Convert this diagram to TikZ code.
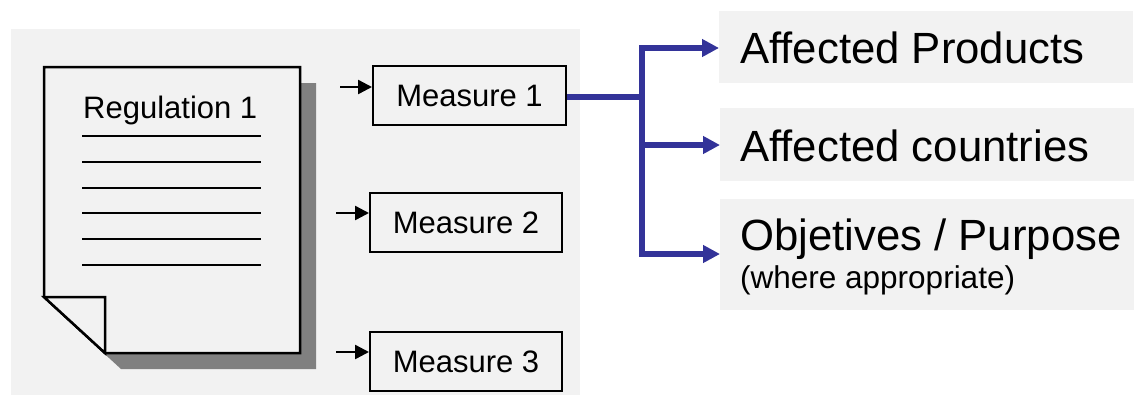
\documentclass[tikz,border=0pt]{standalone}
\usepackage{fontspec}
\setmainfont{Liberation Sans}
\usetikzlibrary{arrows.meta}
\definecolor{panel}{HTML}{F2F2F2}
\definecolor{shadowgray}{HTML}{808080}
\definecolor{conn}{HTML}{333399}
\tikzset{
  measurebox/.style={draw=black, line width=2pt, minimum width=192pt, minimum height=59pt, inner sep=0pt, font=\fontsize{31}{36}\selectfont},
  infobox/.style={fill=panel, minimum width=414pt, inner sep=0pt, anchor=north west},
  bigtxt/.style={font=\fontsize{43.7}{50}\selectfont, inner sep=0pt, anchor=base west},
  smalltxt/.style={font=\fontsize{31.5}{36}\selectfont, inner sep=0pt, anchor=base west},
  regtxt/.style={font=\fontsize{31}{36}\selectfont, inner sep=0pt, anchor=base west},
  smallarrow/.style={line width=2.5pt, -{Triangle[length=14pt,width=14pt]}},
  bluearrow/.style={conn, line width=6pt, -{Triangle[length=17pt,width=17pt]}},
  blueline/.style={conn, line width=6pt},
  docline/.style={line width=2.5pt},
}
\begin{document}
\begin{tikzpicture}[x=1pt,y=-1pt]
\useasboundingbox (0,0) rectangle (1134,405);
% background panel
\fill[panel] (11,29) rectangle (580,395);
% document shadow
\fill[shadowgray] (60,83) -- (316,83) -- (316,369) -- (121,369) -- (60,313) -- cycle;
% document
\draw[docline, fill=panel] (44,67) -- (300,67) -- (300,353) -- (105,353) -- (44,297) -- cycle;
\draw[docline, fill=panel] (44,297) -- (105,297) -- (105,353) -- cycle;
\node[regtxt] (reg) at (83,118) {Regulation 1};
\foreach \yy in {136,162,188,213,239,265}
  \draw[line width=2.3pt] (82,\yy) -- (261,\yy);
% measures
\node[measurebox, minimum width=193pt] (m1) at (469.5,95.5) {Measure 1};
\node[measurebox] (m2) at (466,222.5) {Measure 2};
\node[measurebox] (m3) at (466,361.5) {Measure 3};
\coordinate (a1) at (340,87);
\coordinate (a2) at (336,213);
\coordinate (a3) at (336,352);
\draw[smallarrow] (a1) -- (a1 -| m1.west);
\draw[smallarrow] (a2) -- (a2 -| m2.west);
\draw[smallarrow] (a3) -- (a3 -| m3.west);
% right boxes
\node[infobox, minimum height=72pt] (b1) at (719,11) {};
\node[infobox, minimum height=73pt] (b2) at (720,108) {};
\node[infobox, minimum height=111pt] (b3) at (720,199) {};
\node[bigtxt] (t1) at (740,63) {Affected Products};
\node[bigtxt] (t2) at (740,161) {Affected countries};
\node[bigtxt] (t3) at (740,250) {Objetives / Purpose};
\node[smalltxt] (t4) at (740,288) {(where appropriate)};
% blue connector
\coordinate (j) at (642,97);
\coordinate (jt) at (642,48);
\coordinate (jm) at (642,145);
\coordinate (jb) at (642,254);
\draw[blueline] (m1.east |- j) -- (j);
\draw[blueline, line cap=rect] (jt) -- (jb);
\draw[bluearrow] (jt) -- (jt -| b1.west);
\draw[bluearrow] (jm) -- (jm -| b2.west);
\draw[bluearrow] (jb) -- (jb -| b3.west);
\end{tikzpicture}
\end{document}
